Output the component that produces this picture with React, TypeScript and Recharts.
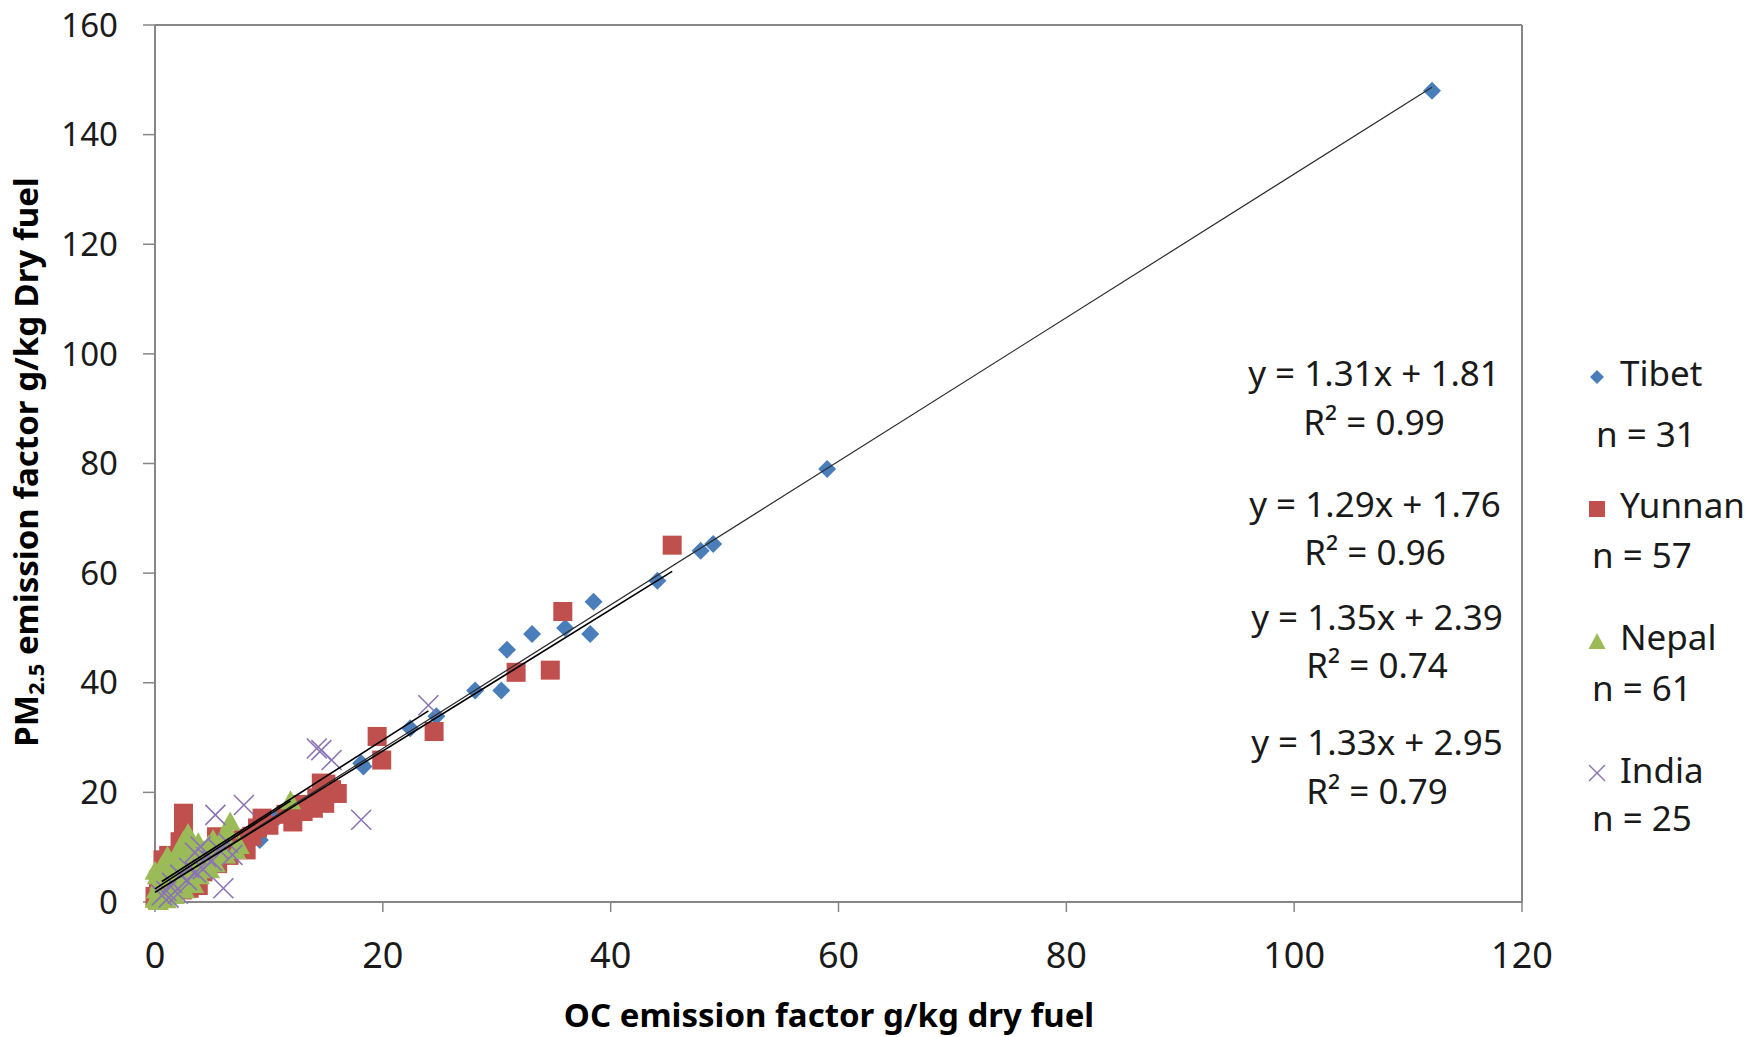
import { ScatterChart, Scatter, XAxis, YAxis, ReferenceLine } from 'recharts';

const X_TICKS = [0, 20, 40, 60, 80, 100, 120];
const Y_TICKS = [0, 20, 40, 60, 80, 100, 120, 140, 160];

// [OC, PM2.5] pairs
const TIBET: [number, number][] = [
  [112.1, 148.0], [59.0, 79.0], [49.0, 65.3], [47.9, 64.1], [44.1, 58.6], [38.5, 54.8],
  [38.2, 48.9], [36.0, 50.0], [33.1, 48.9], [30.9, 46.0], [30.4, 38.6], [28.1, 38.6],
  [24.7, 33.9], [22.4, 31.7], [18.1, 25.3], [18.3, 24.7], [10.7, 15.3], [9.2, 11.3],
  [12.4, 17.6], [7.6, 11.8], [6.3, 9.9], [5.2, 8.6], [4.4, 7.4], [3.7, 6.5],
  [2.9, 5.6], [2.3, 4.8], [1.7, 4.0], [1.2, 3.4], [0.8, 2.8], [0.4, 2.3], [5.8, 7.6],
];

const YUNNAN: [number, number][] = [
  [45.4, 65.1], [35.8, 53.0], [34.7, 42.3], [31.7, 41.9], [24.5, 31.1], [19.5, 30.2],
  [19.9, 25.9], [14.6, 21.7], [16.0, 19.8], [14.9, 18.0], [13.9, 17.1], [12.1, 14.6],
  [9.4, 15.3], [2.5, 16.2], [2.5, 13.2], [7.9, 10.7], [7.8, 11.6], [5.4, 11.9],
  [0.7, 7.7], [0.0, 1.0], [3.4, 4.0], [3.0, 2.5], [1.2, 8.5], [1.8, 6.5],
  [2.0, 5.0], [1.0, 3.5], [0.5, 2.0], [0.2, 0.5], [4.0, 6.5], [4.5, 8.0],
  [5.0, 9.0], [6.0, 9.5], [6.5, 8.5], [7.0, 10.0], [8.5, 12.0], [9.0, 13.5],
  [10.0, 14.0], [11.5, 16.0], [13.0, 16.5], [15.5, 20.5], [15.0, 21.5], [3.5, 7.5],
  [2.8, 6.0], [1.5, 4.5], [0.8, 1.5], [4.2, 5.5], [5.5, 7.0], [6.8, 11.2],
  [3.2, 9.0], [2.2, 11.0], [1.0, 6.0], [3.8, 3.0], [2.4, 2.2], [8.0, 9.5],
  [12.5, 17.8], [14.2, 19.0], [0.3, 4.0],
];

const NEPAL: [number, number][] = [
  [11.9, 18.4], [6.6, 14.5], [6.3, 13.1], [7.4, 10.2], [6.1, 11.7], [5.7, 10.4],
  [5.5, 9.1], [5.1, 11.3], [5.0, 8.4], [4.7, 10.2], [4.6, 7.6], [4.3, 9.3],
  [4.2, 6.5], [3.9, 8.3], [3.8, 10.7], [3.6, 7.2], [3.3, 5.6], [3.2, 9.7],
  [3.0, 6.8], [2.9, 12.4], [2.8, 4.6], [2.7, 8.7], [2.5, 11.1], [2.5, 5.9],
  [2.4, 7.4], [2.2, 3.5], [2.2, 9.9], [2.0, 6.3], [1.9, 4.1], [1.9, 8.1],
  [1.8, 2.7], [1.6, 5.5], [1.6, 7.1], [1.4, 3.9], [1.3, 6.1], [1.3, 2.1],
  [1.1, 4.7], [1.1, 8.3], [0.9, 3.1], [0.9, 5.3], [0.8, 1.7], [0.7, 4.1],
  [0.6, 6.5], [0.5, 2.5], [0.4, 3.7], [0.3, 1.1], [0.2, 4.7], [0.1, 2.1],
  [0.0, 5.5], [0.0, 0.4], [0.3, 0.0], [0.6, 0.9], [1.0, 0.3], [1.7, 1.1],
  [2.6, 2.1], [3.4, 3.1], [3.9, 4.7], [4.8, 5.8], [5.3, 6.9], [6.2, 8.5], [7.1, 9.3],
];

const INDIA: [number, number][] = [
  [24.0, 35.9], [14.2, 28.0], [14.6, 27.7], [15.5, 25.9], [18.1, 15.0], [7.8, 17.7],
  [5.3, 15.9], [6.0, 2.5], [4.0, 10.1], [3.5, 9.0], [4.5, 8.2], [5.0, 7.5],
  [3.0, 6.2], [2.2, 5.0], [1.5, 3.5], [1.0, 2.0], [0.6, 1.2], [2.8, 4.0],
  [4.2, 6.0], [5.6, 9.6], [6.4, 10.8], [3.6, 5.4], [2.0, 1.5], [1.2, 0.8], [6.8, 8.6],
];

const SERIES_NAMES = ['Tibet', 'Yunnan', 'Nepal', 'India'];
const SERIES_N = [31, 57, 61, 25];
const SLOPES = [1.31, 1.29, 1.35, 1.33];
const INTERCEPTS = [1.81, 1.76, 2.39, 2.95];
const R2 = ['0.99', '0.96', '0.74', '0.79'];

const COLORS = ['#4A7EBB', '#C0504D', '#9BBB59', '#8B74B5'];
const FONT = '"Noto Sans", "Open Sans", sans-serif';
const AXIS_GRAY = '#868686';

const toPoints = (arr: [number, number][]) => arr.map(([x, y]) => ({ x, y }));

// Excel-style trendline spans the min..max x of each series
function trend(arr: [number, number][], i: number) {
  const xs = arr.map((p) => p[0]);
  const lo = Math.min(...xs);
  const hi = Math.max(...xs);
  return [lo, hi].map((x) => ({ x, y: SLOPES[i] * x + INTERCEPTS[i] }));
}

function Diamond(props: any) {
  const { cx, cy } = props;
  const r = 9;
  return <polygon points={`${cx},${cy - r} ${cx + r},${cy} ${cx},${cy + r} ${cx - r},${cy}`} fill={COLORS[0]} />;
}

function Square(props: any) {
  const { cx, cy } = props;
  return <rect x={cx - 9.5} y={cy - 9.5} width={19} height={19} fill={COLORS[1]} />;
}

function Triangle(props: any) {
  const { cx, cy } = props;
  return <polygon points={`${cx},${cy - 11} ${cx + 10.5},${cy + 8} ${cx - 10.5},${cy + 8}`} fill={COLORS[2]} />;
}

function Cross(props: any) {
  const { cx, cy } = props;
  const r = 10;
  return (
    <g stroke={COLORS[3]} strokeWidth={1.6}>
      <line x1={cx - r} y1={cy - r} x2={cx + r} y2={cy + r} />
      <line x1={cx - r} y1={cy + r} x2={cx + r} y2={cy - r} />
    </g>
  );
}

const NoDot = () => <g />;

const EQ_ROWS = [
  { cx: 1374, y1: 386, y2: 435 },
  { cx: 1375, y1: 517, y2: 565 },
  { cx: 1377, y1: 630, y2: 678 },
  { cx: 1377, y1: 755, y2: 804 },
];

const LEGEND_ROWS = [
  { my: 377, ty: 386, nx: 1596, ny: 447 },
  { my: 509, ty: 518, nx: 1592, ny: 568 },
  { my: 642, ty: 650, nx: 1592, ny: 701 },
  { my: 773, ty: 783, nx: 1592, ny: 831 },
];

function LegendMarker({ i, x, y }: { i: number; x: number; y: number }) {
  if (i === 0) return <polygon points={`${x},${y - 7} ${x + 7},${y} ${x},${y + 7} ${x - 7},${y}`} fill={COLORS[0]} />;
  if (i === 1) return <rect x={x - 8} y={y - 8} width={16} height={16} fill={COLORS[1]} />;
  if (i === 2) return <polygon points={`${x},${y - 9} ${x + 8.5},${y + 7} ${x - 8.5},${y + 7}`} fill={COLORS[2]} />;
  return (
    <g stroke={COLORS[3]} strokeWidth={1.4}>
      <line x1={x - 8} y1={y - 8} x2={x + 8} y2={y + 8} />
      <line x1={x - 8} y1={y + 8} x2={x + 8} y2={y - 8} />
    </g>
  );
}

export default function App() {
  const shapes = [Diamond, Square, Triangle, Cross];
  const series = [TIBET, YUNNAN, NEPAL, INDIA];

  return (
    <div style={{ position: 'absolute', left: 0, top: 0, width: 1759, height: 1037, background: '#fff', fontFamily: FONT }}>
      <ScatterChart width={1759} height={1037} margin={{ top: 25, right: 237, bottom: 0, left: 0 }}>
        <XAxis
          type="number"
          dataKey="x"
          domain={[0, 120]}
          ticks={X_TICKS}
          height={135}
          tickSize={10}
          tickMargin={30}
          axisLine={{ stroke: AXIS_GRAY, strokeWidth: 2 }}
          tickLine={{ stroke: AXIS_GRAY, strokeWidth: 1.5 }}
          tick={{ fill: '#1a1a1a', fontSize: 36, fontFamily: FONT }}
        />
        <YAxis
          type="number"
          dataKey="y"
          domain={[0, 160]}
          ticks={Y_TICKS}
          width={155}
          tickSize={12}
          tickMargin={25}
          axisLine={{ stroke: AXIS_GRAY, strokeWidth: 2 }}
          tickLine={{ stroke: AXIS_GRAY, strokeWidth: 1.5 }}
          tick={{ fill: '#1a1a1a', fontSize: 33, fontFamily: FONT }}
        />
        <ReferenceLine y={160} stroke={AXIS_GRAY} strokeWidth={2} />
        <ReferenceLine x={120} stroke={AXIS_GRAY} strokeWidth={2} />
        {series.map((arr, i) => (
          <Scatter
            key={SERIES_NAMES[i]}
            name={SERIES_NAMES[i]}
            data={toPoints(arr)}
            shape={shapes[i]}
            isAnimationActive={false}
          />
        ))}
        {series.map((arr, i) => (
          <Scatter
            key={`trend-${SERIES_NAMES[i]}`}
            data={trend(arr, i)}
            line={{ stroke: i === 0 ? '#2a2a2a' : '#000', strokeWidth: i === 0 ? 1.2 : 1.6 }}
            shape={NoDot}
            legendType="none"
            isAnimationActive={false}
          />
        ))}
      </ScatterChart>

      <svg width={1759} height={1037} style={{ position: 'absolute', left: 0, top: 0, pointerEvents: 'none', whiteSpace: 'pre' }}>
        {/* axis titles */}
        <text
          transform="translate(38,462) rotate(-90)"
          textAnchor="middle"
          fontFamily={FONT}
          fontWeight={700}
          fontSize={33}
          fill="#000"
        >
          PM<tspan fontSize={22} dy={6}>2.5</tspan>
          <tspan dy={-6}>{' emission  factor g/kg Dry fuel'}</tspan>
        </text>
        <text x={829} y={1027} textAnchor="middle" fontFamily={FONT} fontWeight={700} fontSize={33} fill="#000">
          {'OC emission factor g/kg  dry fuel'}
        </text>

        {/* regression equations */}
        {EQ_ROWS.map((r, i) => (
          <g key={`eq-${i}`} fontFamily={FONT} fontSize={35} fill="#1a1a1a" textAnchor="middle">
            <text x={r.cx} y={r.y1}>{`y = ${SLOPES[i].toFixed(2)}x + ${INTERCEPTS[i].toFixed(2)}`}</text>
            <text x={r.cx} y={r.y2}>{`R² = ${R2[i]}`}</text>
          </g>
        ))}

        {/* legend */}
        {LEGEND_ROWS.map((r, i) => (
          <g key={`lg-${i}`} fontFamily={FONT} fontSize={35} fill="#1a1a1a">
            <LegendMarker i={i} x={1597} y={r.my} />
            <text x={1620} y={r.ty}>{SERIES_NAMES[i]}</text>
            <text x={r.nx} y={r.ny}>{`n = ${SERIES_N[i]}`}</text>
          </g>
        ))}
      </svg>
    </div>
  );
}
